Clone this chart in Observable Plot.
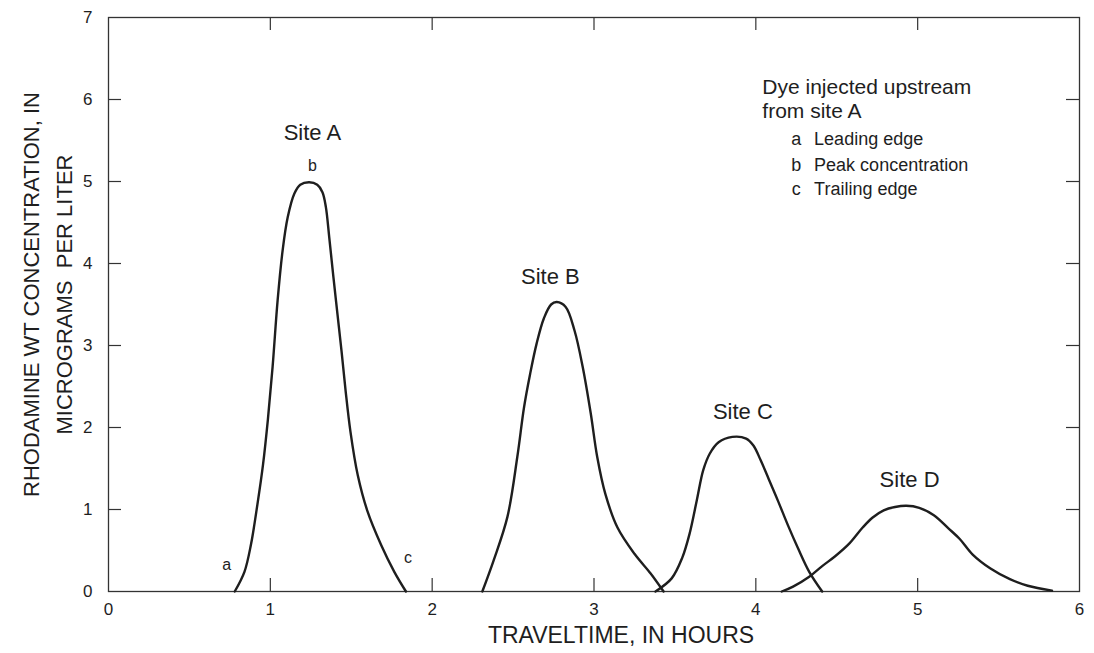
<!DOCTYPE html>
<html>
<head>
<meta charset="utf-8">
<script src="https://cdn.jsdelivr.net/npm/d3@7"></script>
<script src="https://cdn.jsdelivr.net/npm/@observablehq/plot@0.6"></script>
<style>
  html, body { margin: 0; padding: 0; background: #fff; }
  svg text { white-space: pre; }
</style>
</head>
<body>
<div id="chart"></div>
<script>
// ---- Data ----
const siteAx = [0.78,0.84,0.88,0.92,0.955,0.985,1.014,1.045,1.076,1.107,1.148,1.185,1.24,1.29,1.322,1.343,1.364,1.39,1.415,1.44,1.465,1.495,1.54,1.60,1.684,1.766,1.838];
const siteAy = [0,0.24,0.57,1.06,1.55,2.10,2.74,3.55,4.16,4.56,4.85,4.96,4.99,4.96,4.87,4.69,4.32,3.83,3.38,2.93,2.45,1.95,1.42,0.98,0.57,0.24,0];

const siteBx = [2.31,2.38,2.465,2.526,2.568,2.605,2.645,2.69,2.735,2.77,2.825,2.88,2.93,2.98,3.02,3.07,3.145,3.25,3.35,3.43];
const siteBy = [0,0.38,0.91,1.64,2.25,2.65,3.02,3.33,3.50,3.53,3.47,3.18,2.74,2.17,1.64,1.19,0.78,0.46,0.22,0];

const siteCx = [3.38,3.48,3.545,3.59,3.635,3.675,3.715,3.77,3.855,3.94,3.985,4.03,4.08,4.14,4.20,4.26,4.33,4.41];
const siteCy = [0,0.16,0.41,0.70,1.11,1.48,1.68,1.82,1.885,1.865,1.78,1.60,1.37,1.09,0.80,0.53,0.24,0];

const siteDx = [4.16,4.23,4.33,4.41,4.49,4.58,4.66,4.72,4.79,4.86,4.93,5.01,5.10,5.19,5.26,5.34,5.45,5.57,5.68,5.83];
const siteDy = [0,0.06,0.18,0.31,0.43,0.59,0.78,0.90,0.99,1.03,1.045,1.02,0.93,0.77,0.64,0.45,0.28,0.15,0.07,0.01];

const xTicks = [0,1,2,3,4,5,6];
const yTicks = [0,1,2,3,4,5,6,7];
const xInner = [1,2,3,4,5];
const yInner = [1,2,3,4,5,6];

const siteNames = ["Site A","Site B","Site C","Site D"];
const siteLabelX = [1.26,2.73,3.92,4.95];
const siteLabelY = [5.51,3.75,2.10,1.27];

const markerLetters = ["a","b","c"];
const markerX = [0.73,1.26,1.85];
const markerY = [0.26,5.13,0.35];

const legendTitleLines = ["Dye injected upstream","from site A"];
const legendTitleLineY = [6.07,5.78];
const legendLetters = ["a","b","c"];
const legendItems = ["Leading edge","Peak concentration","Trailing edge"];
const legendTitleX = 4.04;
const legendLetterX = 4.25, legendItemX = 4.36;
const legendItemY = [5.45,5.125,4.83];

const xLabel = "TRAVELTIME, IN HOURS";
const yLabel = "RHODAMINE WT CONCENTRATION, IN\nMICROGRAMS  PER LITER";

// ---- Build tables ----
const curves = [
  ...siteAx.map((x,i)=>({site:"A", x, y:siteAy[i]})),
  ...siteBx.map((x,i)=>({site:"B", x, y:siteBy[i]})),
  ...siteCx.map((x,i)=>({site:"C", x, y:siteCy[i]})),
  ...siteDx.map((x,i)=>({site:"D", x, y:siteDy[i]}))
];
const siteLabels = siteNames.map((t,i)=>({t, x:siteLabelX[i], y:siteLabelY[i]}));
const markers = markerLetters.map((t,i)=>({t, x:markerX[i], y:markerY[i]}));
const legendRows = legendItems.map((t,i)=>({letter:legendLetters[i], t, y:legendItemY[i]}));
const legendTitleRows = legendTitleLines.map((t,i)=>({t, y:legendTitleLineY[i]}));

const W = 1094, H = 653;
const mT = 17, mB = 62, mL = 108, mR = 15;
const plotH = H - mT - mB, plotW = W - mL - mR;
const tick = 13;
const ink = "#1e1e1e";
const font = "Liberation Sans, Arial, Helvetica, sans-serif";

const chart = Plot.plot({
  width: W, height: H,
  marginTop: mT, marginBottom: mB, marginLeft: mL, marginRight: mR,
  style: {fontFamily: font, color: ink, background: "#fff"},
  x: {domain: [0, 6]},
  y: {domain: [0, 7]},
  marks: [
    Plot.frame({stroke: "#333", strokeWidth: 1.3}),
    // inward ticks on all four sides
    Plot.ruleX(xInner, {x: d => d, insetTop: plotH - tick, stroke: "#333", strokeWidth: 1.2}),
    Plot.ruleX(xInner, {x: d => d, insetBottom: plotH - tick, stroke: "#333", strokeWidth: 1.2}),
    Plot.ruleY(yInner, {y: d => d, insetRight: plotW - tick, stroke: "#333", strokeWidth: 1.2}),
    Plot.ruleY(yInner, {y: d => d, insetLeft: plotW - tick, stroke: "#333", strokeWidth: 1.2}),
    Plot.axisX({ticks: xTicks, tickSize: 0, tickPadding: 11, fontSize: 17, label: null, tickFormat: d => String(d)}),
    Plot.axisY({ticks: yTicks, tickSize: 0, tickPadding: 16, fontSize: 17, label: null, tickFormat: d => String(d)}),
    Plot.line(curves, {x: "x", y: "y", z: "site", curve: "catmull-rom", stroke: ink, strokeWidth: 2.4}),
    Plot.text(siteLabels, {x: "x", y: "y", text: "t", fontSize: 22, lineAnchor: "bottom", fill: ink}),
    Plot.text(markers, {x: "x", y: "y", text: "t", fontSize: 16, lineAnchor: "bottom", fill: ink}),
    Plot.text(legendTitleRows, {x: () => legendTitleX, y: "y", text: "t", textAnchor: "start", lineAnchor: "bottom", fontSize: 21, fill: ink}),
    Plot.text(legendRows, {x: () => legendLetterX, y: "y", text: "letter", textAnchor: "middle", lineAnchor: "bottom", fontSize: 18, fill: ink}),
    Plot.text(legendRows, {x: () => legendItemX, y: "y", text: "t", textAnchor: "start", lineAnchor: "bottom", fontSize: 18, fill: ink}),
    Plot.text([xLabel], {frameAnchor: "bottom", text: d => d, dx: 27, dy: 51, fontSize: 23, fill: ink}),
    Plot.text([yLabel], {frameAnchor: "left", text: d => d, rotate: -90, textAnchor: "middle", lineAnchor: "middle", dx: -64, dy: -10, fontSize: 22, lineHeight: 1.5, fill: ink})
  ]
});
document.getElementById("chart").appendChild(chart);
</script>
</body>
</html>
